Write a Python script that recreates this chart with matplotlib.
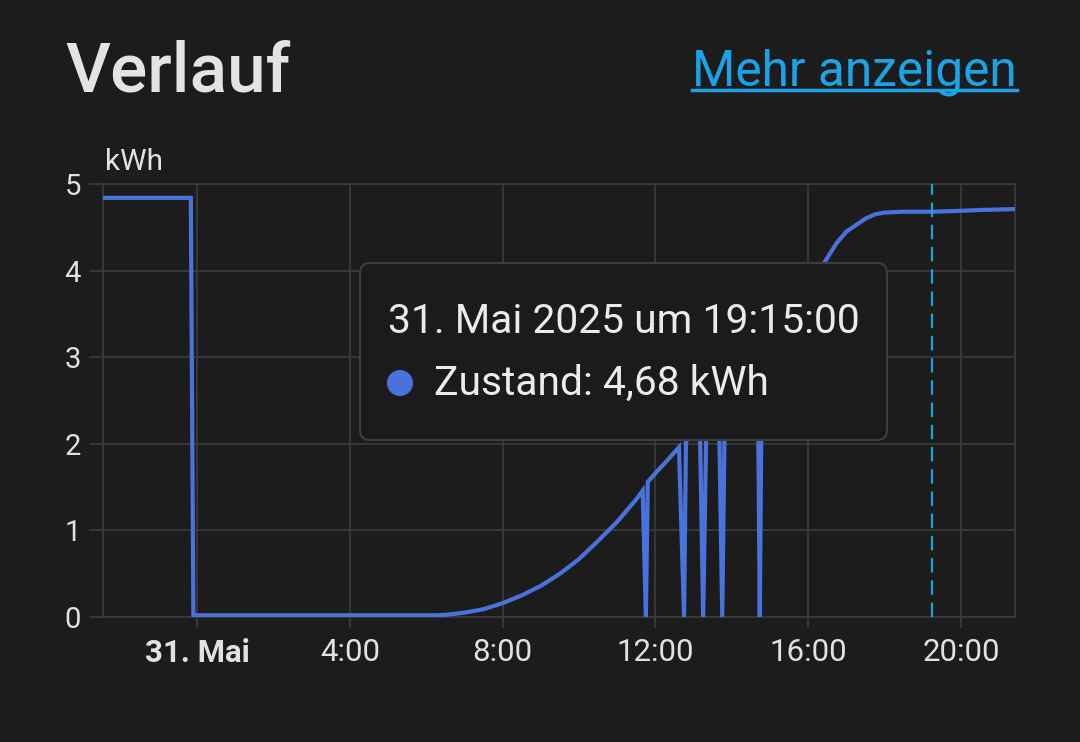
import pandas as pd
import matplotlib
matplotlib.use("Agg")
import matplotlib.pyplot as plt
from matplotlib.patches import FancyBboxPatch, Circle
from matplotlib.transforms import IdentityTransform

plt.rcParams['font.family'] = ['Roboto', 'DejaVu Sans']

# energy state (kWh)
times = [
    "2025-05-30 21:32", "2025-05-30 23:50", "2025-05-30 23:54",
    "2025-05-31 06:15", "2025-05-31 06:30", "2025-05-31 07:00", "2025-05-31 07:30",
    "2025-05-31 08:00", "2025-05-31 08:30", "2025-05-31 09:00", "2025-05-31 09:30",
    "2025-05-31 10:00", "2025-05-31 10:30", "2025-05-31 11:00", "2025-05-31 11:30",
    "2025-05-31 11:40", "2025-05-31 11:45", "2025-05-31 11:48", "2025-05-31 12:00",
    "2025-05-31 12:20", "2025-05-31 12:37", "2025-05-31 12:45", "2025-05-31 12:48",
    "2025-05-31 13:00", "2025-05-31 13:10", "2025-05-31 13:15", "2025-05-31 13:20",
    "2025-05-31 13:40", "2025-05-31 13:45", "2025-05-31 13:49", "2025-05-31 14:00",
    "2025-05-31 14:30", "2025-05-31 14:41", "2025-05-31 14:44", "2025-05-31 14:47",
    "2025-05-31 15:00", "2025-05-31 15:30", "2025-05-31 16:00", "2025-05-31 16:26",
    "2025-05-31 16:45", "2025-05-31 17:00", "2025-05-31 17:30", "2025-05-31 17:45",
    "2025-05-31 18:00", "2025-05-31 18:30", "2025-05-31 19:15", "2025-05-31 20:00",
    "2025-05-31 20:30", "2025-05-31 21:25",
]
values = [
    4.84, 4.84, 0.02,
    0.02, 0.025, 0.05, 0.09,
    0.16, 0.25, 0.36, 0.50,
    0.67, 0.88, 1.10, 1.36,
    1.46, 0.0, 1.56, 1.66,
    1.82, 1.96, 0.0, 2.03,
    2.1, 2.15, 0.0, 2.19,
    2.32, 0.0, 2.37, 2.45,
    2.65, 2.74, 0.0, 2.78,
    2.9, 3.2, 3.6, 4.1,
    4.32, 4.45, 4.6, 4.65,
    4.67, 4.68, 4.68, 4.69,
    4.70, 4.71,
]
tick_times = ["2025-05-31 00:00", "2025-05-31 04:00", "2025-05-31 08:00",
              "2025-05-31 12:00", "2025-05-31 16:00", "2025-05-31 20:00"]
tick_labels = ["31. Mai", "4:00", "8:00", "12:00", "16:00", "20:00"]
hover_time = "2025-05-31 19:15"

bg = '#1c1c1c'
grid = '#3c3c3c'
txt = '#e1e1e1'

W, H = 1080, 742
fig = plt.figure(figsize=(W / 100, H / 100), dpi=100, facecolor=bg)
ax = fig.add_axes([103 / W, 1 - 617 / H, (1015 - 103) / W, (617 - 184) / H])
ax.set_facecolor(bg)

t = pd.to_datetime(times)
ax.plot(t, values, color='#4a72dc', linewidth=3.0, solid_joinstyle='miter', zorder=3)
ax.axvline(pd.Timestamp(hover_time), color='#1f9fe0', linewidth=1.6,
           dashes=(6.5, 3.5), zorder=4)

ax.set_xlim(pd.Timestamp("2025-05-30 21:32"), pd.Timestamp("2025-05-31 21:25"))
ax.set_ylim(0, 5)
ax.set_xticks(pd.to_datetime(tick_times))
ax.set_xticklabels(tick_labels)
ax.get_xticklabels()[0].set_fontweight('bold')
ax.set_yticks([0, 1, 2, 3, 4, 5])

ax.grid(True, color=grid, linewidth=1.2)
for s in ax.spines.values():
    s.set_color(grid)
    s.set_linewidth(1.2)
ax.tick_params(axis='x', colors=grid, labelcolor=txt, labelsize=22.5,
               length=8, width=1.2, pad=7)
ax.tick_params(axis='y', colors=grid, labelcolor=txt, labelsize=21,
               length=10, width=1.2, pad=6)
ax.text(0.002, 1.018, "kWh", transform=ax.transAxes, color=txt, fontsize=21.5,
        ha='left', va='bottom')

# header
fig.text(65 / W, 1 - 92 / H, "Verlauf", color='#e3e3e3', fontsize=50,
         fontweight='medium', ha='left', va='baseline')
link = fig.text(1017 / W, 1 - 85 / H, "Mehr anzeigen", color='#1aa3e8',
                fontsize=35.7, ha='right', va='baseline')
fig.canvas.draw()
bb = link.get_window_extent()
fig.add_artist(plt.Line2D([bb.x0 / W, bb.x1 / W], [(H - 90) / H] * 2,
                          color='#1aa3e8', linewidth=2.5))

# tooltip
box = FancyBboxPatch((360, H - 440), 527, 177,
                     boxstyle="round,pad=0,rounding_size=10",
                     transform=IdentityTransform(), facecolor='#1b1b1b',
                     edgecolor='#3e3e3e', linewidth=1.5, zorder=5)
fig.add_artist(box)
fig.text(388 / W, 1 - 333 / H, "31. Mai 2025 um 19:15:00", color='#ebebeb',
         fontsize=29.3, ha='left', va='baseline', zorder=6)
fig.add_artist(Circle((400, H - 383), 13, transform=IdentityTransform(),
                      facecolor='#4a72dc', edgecolor='none', zorder=6))
fig.text(434 / W, 1 - 395 / H, "Zustand: 4,68 kWh", color='#ebebeb',
         fontsize=29.3, ha='left', va='baseline', zorder=6)

fig.savefig("out.png", dpi=100, facecolor=bg)
